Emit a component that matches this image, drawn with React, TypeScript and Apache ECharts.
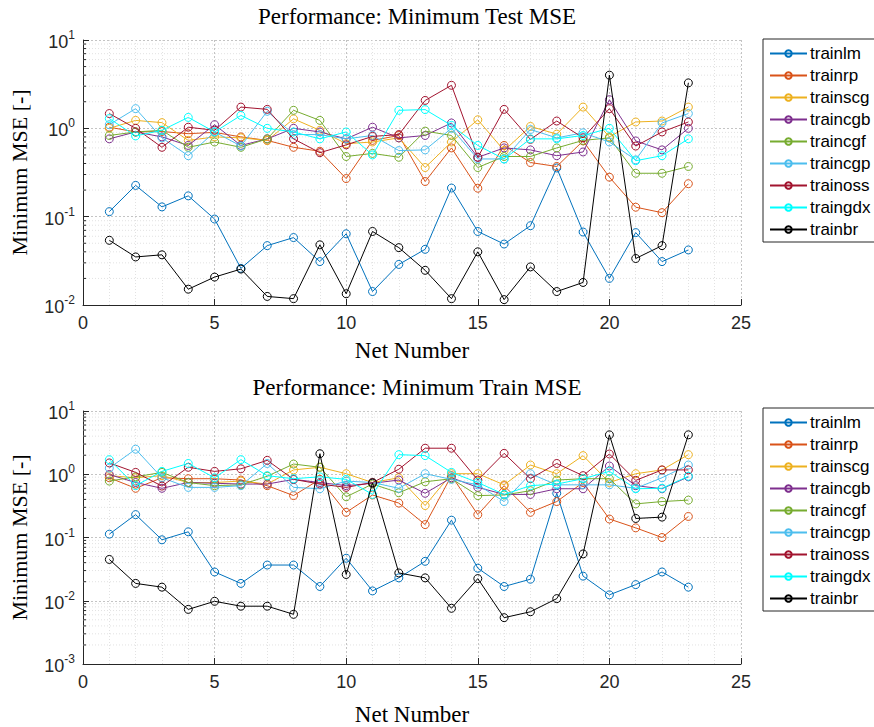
import React, { useEffect, useRef } from "react";
import * as echarts from "echarts";

// Net numbers on the x axis
const netNumbers = [1, 2, 3, 4, 5, 6, 7, 8, 9, 10, 11, 12, 13, 14, 15, 16, 17, 18, 19, 20, 21, 22, 23];

const seriesNames = ["trainlm", "trainrp", "trainscg", "traincgb", "traincgf", "traincgp", "trainoss", "traingdx", "trainbr"];
const seriesColors = ["#0072BD", "#D95319", "#EDB120", "#7E2F8E", "#77AC30", "#4DBEEE", "#A2142F", "#00FFFF", "#000000"];

// Minimum test MSE per training function
const testLm = [0.114, 0.226, 0.129, 0.172, 0.094, 0.026, 0.047, 0.058, 0.031, 0.064, 0.0142, 0.0288, 0.0427, 0.211, 0.068, 0.049, 0.079, 0.356, 0.067, 0.020, 0.066, 0.031, 0.042];
const testRp = [1.03, 0.91, 0.92, 0.87, 0.9, 0.8, 0.73, 0.61, 0.55, 0.27, 0.73, 0.83, 0.25, 0.6, 0.21, 0.64, 0.41, 0.37, 0.72, 0.28, 0.128, 0.111, 0.236];
const testScg = [1.0, 1.23, 1.16, 0.73, 0.8, 0.78, 0.73, 1.28, 0.95, 0.67, 0.7, 0.78, 0.36, 0.7, 1.25, 0.56, 1.05, 0.86, 1.74, 0.8, 1.18, 1.21, 1.74];
const testCgb = [0.76, 0.91, 0.8, 0.64, 1.1, 0.64, 0.76, 1.0, 0.91, 0.76, 1.03, 0.78, 0.83, 1.15, 0.47, 0.6, 0.57, 0.49, 0.54, 2.11, 0.72, 0.57, 1.0];
const testCgf = [0.83, 0.91, 0.95, 0.61, 0.7, 0.61, 0.76, 1.6, 1.23, 0.48, 0.52, 0.47, 0.93, 0.83, 0.36, 0.48, 0.48, 0.6, 0.73, 0.78, 0.31, 0.31, 0.37];
const testCgp = [1.1, 1.67, 0.78, 0.49, 0.91, 0.63, 1.56, 0.85, 0.85, 0.76, 0.83, 0.56, 0.57, 1.0, 0.45, 0.45, 0.97, 0.78, 0.89, 0.7, 0.44, 1.15, 1.47];
const testOss = [1.47, 1.0, 0.61, 1.03, 0.95, 1.74, 1.64, 0.76, 0.53, 0.65, 0.81, 0.85, 2.07, 3.07, 0.47, 1.64, 0.75, 1.21, 0.78, 1.67, 0.63, 0.91, 1.18];
const testGdx = [1.29, 0.82, 0.95, 1.33, 0.91, 1.4, 1.0, 0.91, 0.76, 0.91, 0.5, 1.6, 1.63, 1.08, 0.64, 0.45, 0.76, 0.76, 0.83, 1.0, 0.43, 0.49, 0.76];
const testBr = [0.054, 0.035, 0.037, 0.0151, 0.0207, 0.0255, 0.0125, 0.0118, 0.048, 0.0134, 0.068, 0.0446, 0.0247, 0.0118, 0.04, 0.0115, 0.027, 0.0142, 0.018, 4.0, 0.0336, 0.047, 3.27];

// Minimum train MSE per training function
const trainLm = [0.113, 0.23, 0.092, 0.123, 0.0285, 0.0188, 0.0367, 0.0367, 0.0168, 0.047, 0.0143, 0.023, 0.042, 0.188, 0.0327, 0.0168, 0.0219, 0.5, 0.0245, 0.0124, 0.018, 0.0285, 0.0164];
const trainRp = [0.88, 0.6, 0.88, 0.85, 0.85, 0.81, 0.66, 0.46, 0.83, 0.25, 0.47, 0.35, 0.16, 0.95, 0.23, 0.66, 0.25, 0.37, 0.74, 0.196, 0.142, 0.1, 0.215];
const trainScg = [0.95, 0.88, 0.95, 0.74, 0.74, 0.78, 0.7, 1.17, 1.29, 1.02, 0.74, 0.88, 0.32, 1.02, 1.02, 0.68, 1.4, 1.02, 1.97, 0.74, 1.02, 1.17, 2.04];
const trainCgb = [0.99, 0.74, 0.6, 0.74, 0.72, 0.7, 0.7, 0.83, 0.74, 0.66, 0.72, 0.81, 0.5, 0.88, 0.62, 0.48, 0.48, 0.59, 0.59, 1.35, 0.66, 0.59, 0.91];
const trainCgf = [0.78, 0.91, 1.07, 0.74, 0.66, 0.68, 0.93, 1.45, 1.29, 0.44, 0.7, 0.51, 0.76, 0.85, 0.46, 0.47, 0.55, 0.81, 0.85, 0.85, 0.34, 0.37, 0.39];
const trainCgp = [1.25, 2.49, 0.88, 0.62, 0.62, 0.66, 1.48, 0.62, 0.59, 0.78, 0.74, 0.6, 1.02, 0.83, 0.68, 0.37, 1.02, 0.68, 0.68, 0.68, 0.6, 0.88, 1.4];
const trainOss = [1.51, 1.07, 0.65, 1.29, 1.11, 1.22, 1.66, 0.83, 0.7, 0.62, 0.74, 1.2, 2.58, 2.58, 0.81, 2.14, 0.85, 1.48, 0.95, 2.09, 0.8, 1.17, 1.17];
const trainGdx = [1.7, 0.66, 1.11, 1.48, 0.88, 1.7, 0.95, 0.85, 0.91, 0.83, 0.48, 2.04, 1.97, 1.07, 0.74, 0.48, 0.66, 0.7, 0.85, 1.11, 0.59, 0.6, 0.93];
const trainBr = [0.045, 0.0188, 0.0164, 0.0073, 0.0098, 0.0082, 0.0082, 0.0061, 2.11, 0.026, 0.73, 0.0275, 0.023, 0.0076, 0.0224, 0.0054, 0.0067, 0.0108, 0.055, 4.2, 0.2, 0.21, 4.2];

const testSets = [testLm, testRp, testScg, testCgb, testCgf, testCgp, testOss, testGdx, testBr];
const trainSets = [trainLm, trainRp, trainScg, trainCgb, trainCgf, trainCgp, trainOss, trainGdx, trainBr];

const panelTitles = ["Performance: Minimum Test MSE", "Performance: Minimum Train MSE"];
const xAxisTitle = "Net Number";
const yAxisTitle = "Minimum MSE [-]";

const SANS = "Liberation Sans, Arial, sans-serif";
const SERIF = "Liberation Serif, Times New Roman, serif";
const INK = "#262626";

// Sub-decade grid positions (2..9 within each decade)
function subDecades(lo: number, hi: number): number[] {
  const out: number[] = [];
  for (let e = lo; e < hi; e++) {
    for (let m = 2; m <= 9; m++) out.push(m * Math.pow(10, e));
  }
  return out;
}

const panels = [
  { top: 40, height: 265, yMin: 0.01, sets: testSets, minor: subDecades(-2, 1), legendTop: 39, nameGap: 34 },
  { top: 411, height: 266, yMin: 0.001, sets: trainSets, minor: subDecades(-3, 1), legendTop: 408, nameGap: 39 },
];

export default function App() {
  const ref = useRef<HTMLDivElement>(null);

  useEffect(() => {
    if (!ref.current) return;
    const chart = echarts.init(ref.current, undefined, { renderer: "svg" });

    const grids: any[] = [];
    const xAxes: any[] = [];
    const yAxes: any[] = [];
    const series: any[] = [];
    const legends: any[] = [];
    const titles: any[] = [];

    panels.forEach((p, i) => {
      grids.push({ left: 81, width: 660, top: p.top, height: p.height, containLabel: false });
      titles.push({
        text: panelTitles[i],
        left: 412,
        top: p.top - 40,
        textAlign: "center",
        textStyle: { fontFamily: SERIF, fontSize: 23, fontWeight: "normal", color: "#000" },
      });
      xAxes.push({
        type: "value",
        gridIndex: i,
        min: 0,
        max: 25,
        interval: 5,
        name: xAxisTitle,
        nameLocation: "middle",
        nameGap: p.nameGap,
        nameTextStyle: { fontFamily: SERIF, fontSize: 23, color: "#000" },
        axisLine: { show: true, onZero: false, lineStyle: { color: INK, width: 1 } },
        axisTick: { show: true, inside: true, length: 6, lineStyle: { color: INK } },
        axisLabel: { fontFamily: SANS, fontSize: 18, color: INK, margin: 9 },
        splitLine: { show: true, lineStyle: { color: "#c4c4c4", type: [2, 2], width: 1 } },
        minorTick: { show: false, splitNumber: 5 },
        minorSplitLine: { show: true, lineStyle: { color: "#e2e2e2", type: [1, 2], width: 1 } },
      });
      yAxes.push({
        type: "log",
        logBase: 10,
        gridIndex: i,
        min: p.yMin,
        max: 10,
        name: yAxisTitle,
        nameLocation: "middle",
        nameGap: 53,
        nameTextStyle: { fontFamily: SERIF, fontSize: 22, color: "#000" },
        axisLine: { show: true, lineStyle: { color: INK, width: 1 } },
        axisTick: { show: true, inside: true, length: 6, lineStyle: { color: INK } },
        axisLabel: {
          margin: 8,
          formatter: (v: number) => `{b|10}{s|${Math.round(Math.log10(v))}}`,
          rich: {
            b: { fontFamily: SANS, fontSize: 18, color: INK, lineHeight: 22, verticalAlign: "bottom" },
            s: { fontFamily: SANS, fontSize: 12, color: INK, lineHeight: 12, verticalAlign: "top" },
          },
        },
        splitLine: { show: true, lineStyle: { color: "#c4c4c4", type: [2, 2], width: 1 } },
      });

      // dotted sub-decade grid lines plus short inside ticks on the log axis
      series.push({
        type: "custom",
        xAxisIndex: i,
        yAxisIndex: i,
        silent: true,
        z: 1,
        clip: false,
        data: p.minor.map((v) => [0, v]),
        renderItem: (_params: any, api: any) => {
          const v = api.value(1);
          const a = api.coord([0, v]);
          const b = api.coord([25, v]);
          return {
            type: "group",
            children: [
              {
                type: "line",
                shape: { x1: a[0], y1: a[1], x2: b[0], y2: b[1] },
                style: { stroke: "#e2e2e2", lineWidth: 1, lineDash: [1, 2] },
              },
              {
                type: "line",
                shape: { x1: a[0], y1: a[1], x2: a[0] + 3, y2: a[1] },
                style: { stroke: INK, lineWidth: 1 },
              },
            ],
          };
        },
      });

      p.sets.forEach((vals, k) => {
        series.push({
          type: "line",
          name: seriesNames[k],
          xAxisIndex: i,
          yAxisIndex: i,
          z: 2 + k,
          data: netNumbers.map((n, j) => [n, vals[j]]),
          symbol: "circle",
          symbolSize: 8,
          showSymbol: true,
          lineStyle: { color: seriesColors[k], width: 1 },
          itemStyle: { color: "rgba(255,255,255,0)", borderColor: seriesColors[k], borderWidth: 1 },
          emphasis: { disabled: true },
        });
      });

      legends.push({
        data: seriesNames,
        orient: "vertical",
        left: 763,
        top: p.legendTop,
        itemWidth: 37,
        itemHeight: 8,
        itemGap: 5,
        padding: [6, 6, 4, 6],
        borderColor: INK,
        borderWidth: 1,
        backgroundColor: "#fff",
        selectedMode: false,
        textStyle: { fontFamily: SANS, fontSize: 17, lineHeight: 17, color: "#000", padding: [0, 0, 0, -2] },
      });
    });

    chart.setOption({
      animation: false,
      backgroundColor: "#fff",
      title: titles,
      grid: grids,
      xAxis: xAxes,
      yAxis: yAxes,
      legend: legends,
      series,
    });

    return () => chart.dispose();
  }, []);

  return (
    <div
      ref={ref}
      style={{ position: "fixed", left: 0, top: 0, width: 874, height: 727, background: "#fff" }}
    />
  );
}
